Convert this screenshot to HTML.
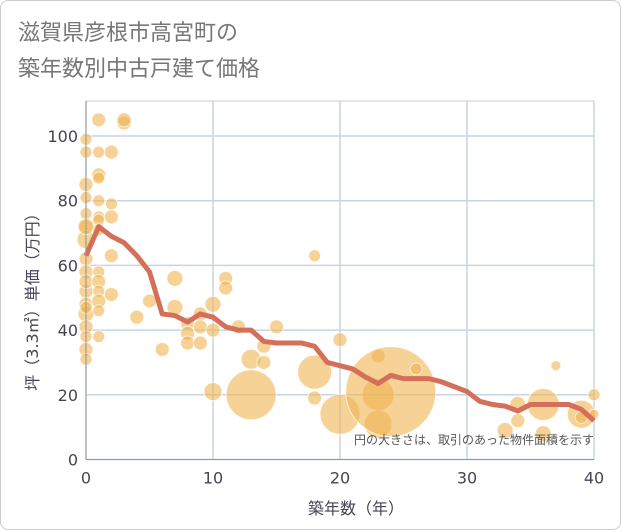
<!DOCTYPE html>
<html><head><meta charset="utf-8"><style>
body{margin:0;background:#fff;font-family:"DejaVu Sans","Noto Sans CJK JP",sans-serif}
.wrap{position:relative;width:619px;height:528px;border:1px solid #ccc;border-radius:8px;overflow:hidden}
</style></head><body>
<div class="wrap">
<svg width="621" height="530" style="position:absolute;left:-1px;top:-1px" font-family="DejaVu Sans, Noto Sans CJK JP, sans-serif">
<text x="18" y="40" font-size="22" fill="#777">滋賀県彦根市高宮町の</text>
<text x="18" y="76" font-size="22" fill="#777">築年数別中古戸建て価格</text>
<g id="grid"></g><g id="bubbles"></g><g id="line"></g><g id="axes"></g>
<text x="594" y="444" font-size="12" fill="#555" text-anchor="end">円の大きさは、取引のあった物件面積を示す</text>
<text x="356" y="514" font-size="16" fill="#445" text-anchor="middle">築年数（年）</text>
<text transform="translate(38,298) rotate(-90)" font-size="16" fill="#445" text-anchor="middle">坪（3.3㎡）単価（万円）</text>
</svg></div>
<script>
const xTicks=[0,10,20,30,40];
const yTicks=[0,20,40,60,80,100];
const bubbleX=[0,0,0,0,0,0,0,0,0,0,0,0,0,0,0,0,0,0,0,1,1,1,1,1,1,1,1,1,1,1,1,1,1,2,2,2,2,2,3,3,4,5,6,7,7,8,8,8,9,9,9,10,10,10,11,11,12,13,13,14,14,15,18,18,18,20,20,23,23,23,24,26,33,34,34,37,36,36,39,39,40,40];
const bubbleY=[99,95,85,81,76,72,68,62,58,52,48,45,41,38,34,31,72,55,47,105,95,88,87,80,75,74,71,58,55,52,49,46,38,95,79,75,63,51,104,105,44,49,34,56,47,42,39,36,45,41,36,48,40,21,56,53,41,31,20,35,30,41,63,27,19,37,14,32,20,11,21,28,9,12,17,29,17,8,14,13,20,14];
const bubbleR=[6,6,7,6,6,7,9,7,7,7,7,8,7,6,7,6,8,7,6,7,6,7,6,6,6,6,6,6,7,6,7,6,6,7,6,7,7,7,7,7,7,7,7,8,8,7,7,7,7,7,7,8,7,9,7,7,7,10,25,7,7,7,6,17,7,7,20,7,16,14,45,6,8,7,8,5,16,8,14,6,6,5];
const lineX=[0,1,2,3,4,5,6,7,8,9,10,11,12,13,14,15,16,17,18,19,20,21,22,23,24,25,26,27,28,29,30,31,32,33,34,35,36,37,38,39,40];
const lineY=[63,72,69,67,63,58,45,44.5,42.5,45,44,41,40,40,36.5,36,36,36,35,30,29,28,25.5,23.5,26,25,25,25,24,22.5,21,18,17,16.5,15,17,17,17,17,15.5,12];
const NS='http://www.w3.org/2000/svg';
const X0=86,X1=594,Y0=459.5,Y1=136,YMAX=100;
const sx=v=>X0+(X1-X0)*v/40, sy=v=>Y0-(Y0-Y1)*v/YMAX;
function mk(tag,parent,attrs){const e=document.createElementNS(NS,tag);for(const k in attrs)e.setAttribute(k,attrs[k]);parent.appendChild(e);return e;}
const g=document.getElementById('grid'),b=document.getElementById('bubbles'),l=document.getElementById('line'),a=document.getElementById('axes');
mk('rect',g,{x:X0,y:101,width:X1-X0,height:Y0-101,fill:'#fff',stroke:'#ccc'});
yTicks.forEach(t=>{const ln=mk('line',g,{x1:X0,x2:X1,y1:sy(t),y2:sy(t),stroke:'#c8d4e4','stroke-width':1.5});

const tx=mk('text',a,{x:X0-8,y:sy(t)+6,'font-size':16,fill:'#445','text-anchor':'end'});tx.textContent=t;
});
xTicks.forEach(t=>{const ln=mk('line',g,{x1:sx(t),x2:sx(t),y1:101,y2:Y0,stroke:'#c8d4e4','stroke-width':1.5});

const tx=mk('text',a,{x:sx(t),y:Y0+24,'font-size':16,fill:'#445','text-anchor':'middle'});tx.textContent=t;
});
mk('line',a,{x1:X0,x2:X1,y1:Y0,y2:Y0,stroke:'#999'});
mk('line',a,{x1:X0,x2:X0,y1:101,y2:Y0,stroke:'#999'});
bubbleX.forEach((v,i)=>{const c=mk('circle',b,{cx:sx(v),cy:sy(bubbleY[i]),r:bubbleR[i],fill:'rgba(240,180,80,0.6)',stroke:'rgba(255,255,255,0.7)','stroke-width':1});
});
const p=mk('polyline',l,{points:lineX.map((v,i)=>sx(v)+','+sy(lineY[i])).join(' '),fill:'none',stroke:'#d4705a','stroke-width':5,'stroke-linejoin':'round'});

</script>
</body></html>
